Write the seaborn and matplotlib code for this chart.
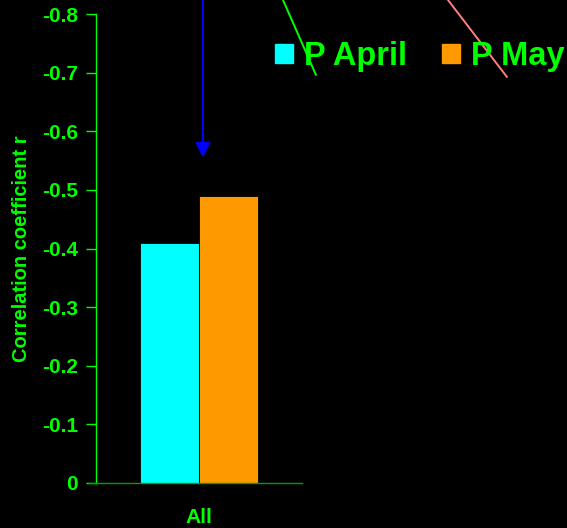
import matplotlib
matplotlib.use("Agg")
import matplotlib.pyplot as plt
from matplotlib.lines import Line2D
from matplotlib.patches import Patch
import seaborn as sns
import pandas as pd

# Correlation of P with the target, by month
group = ["All", "All"]
series = ["P April", "P May"]
values = [-0.41, -0.49]
colors = ["#00FFFF", "#FF9900"]
y_ticks = [0, -0.1, -0.2, -0.3, -0.4, -0.5, -0.6, -0.7, -0.8]
y_tick_labels = ["0", "-0.1", "-0.2", "-0.3", "-0.4", "-0.5", "-0.6", "-0.7", "-0.8"]
arrow_target = -0.555

sns.set_theme(style="dark")
plt.rcParams["font.family"] = ["Liberation Sans", "DejaVu Sans"]
plt.rcParams["axes.unicode_minus"] = False

GREEN = "#00FF00"
DARK_GREEN = "#00A000"

df = pd.DataFrame({"group": group, "series": series, "r": values})

fig = plt.figure(figsize=(5.67, 5.28), dpi=100, facecolor="black")
W, H = 567, 528
ax = fig.add_axes([96 / W, 1 - 483 / H, (302 - 96) / W, (483 - 14) / H])
ax.set_facecolor("black")

sns.barplot(data=df, x="group", y="r", hue="series", palette=colors,
            saturation=1, width=0.573, gap=0, dodge=True, edgecolor="black",
            linewidth=0.6, legend=False, ax=ax)

ax.set_xlim(-0.5, 0.5)
ax.set_ylim(0, -0.8)
ax.set_yticks(y_ticks)
ax.set_yticklabels(y_tick_labels)
ax.tick_params(axis="y", colors=GREEN, length=7, width=1, direction="out",
               labelsize=15, left=True, pad=6)
for lab in ax.get_yticklabels():
    lab.set_fontweight("bold")
ax.tick_params(axis="x", colors=GREEN, length=0, labelsize=15, pad=18)
for lab in ax.get_xticklabels():
    lab.set_fontweight("bold")
ax.set_xlabel("")
ax.set_ylabel("Correlation coefficient r", color=GREEN, fontsize=14.5,
              fontweight="bold", labelpad=8)
ax.grid(False)
for side in ["top", "right"]:
    ax.spines[side].set_visible(False)
ax.spines["left"].set_visible(True)
ax.spines["left"].set_color(GREEN)
ax.spines["left"].set_linewidth(1)
ax.spines["bottom"].set_visible(True)
ax.spines["bottom"].set_color(DARK_GREEN)
ax.spines["bottom"].set_linewidth(1)
ax.spines["bottom"].set_bounds(-0.5 - 7 / 206, 0.5)

# Arrow marking the threshold
ax.annotate("", xy=(0.019, arrow_target), xycoords="data",
            xytext=(0.019, -0.85), textcoords="data",
            arrowprops=dict(arrowstyle="-|>", color="#0000FF", lw=1.6,
                            mutation_scale=22, shrinkA=0, shrinkB=0),
            annotation_clip=False)

# Diagonal guide lines
fig.add_artist(Line2D([283 / W, 316 / W], [1, 1 - 75 / H], color=GREEN, lw=1.4))
fig.add_artist(Line2D([448 / W, 507 / W], [1, 1 - 77 / H], color="#FF8080", lw=1.4))

handles = [Patch(facecolor=c, edgecolor=c) for c in colors]
leg = fig.legend(handles, series, loc="upper left", bbox_to_anchor=(275 / W, 1 - 41 / H),
                 ncol=2, frameon=False, fontsize=23.5, handlelength=0.55, handleheight=0.55,
                 handletextpad=0.35, columnspacing=1.05, borderaxespad=0, borderpad=0)
for t in leg.get_texts():
    t.set_color(GREEN)
    t.set_fontweight("bold")

fig.savefig("out.png", dpi=100, facecolor="black")
